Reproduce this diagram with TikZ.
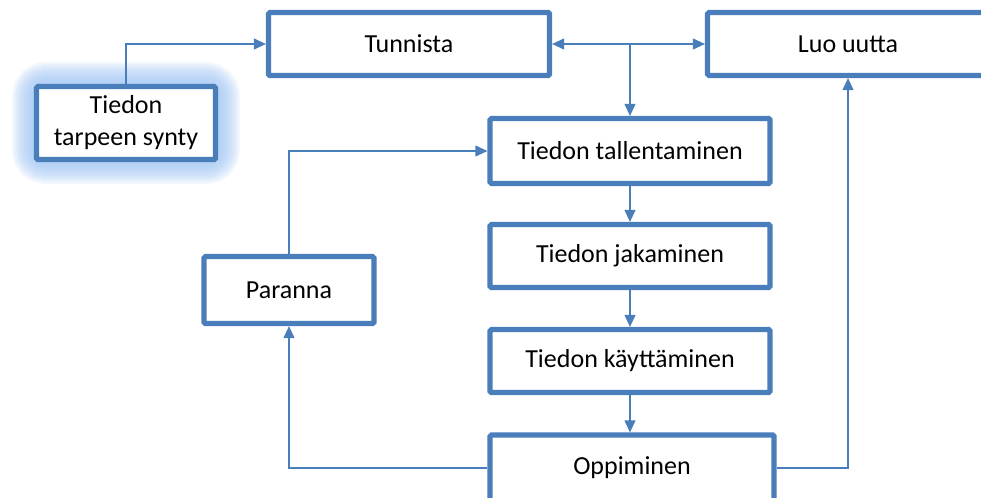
\documentclass[tikz,border=0pt]{standalone}
\usepackage{fontspec}
\setmainfont{Carlito}
\usetikzlibrary{arrows.meta}
\usetikzlibrary{backgrounds}

\definecolor{boxblue}{HTML}{4A7EBB}
\definecolor{glowblue}{HTML}{9CC2F2}

\tikzset{
  laatikko/.style={draw=boxblue,line width=3.8pt,fill=white,rounded corners=1pt,
    align=center,inner sep=0pt,font=\fontsize{19.5}{24}\selectfont},
  nuoli/.style={draw=boxblue,line width=1.4pt,-{Triangle[length=9pt,width=8pt]}}
}

\begin{document}
\begin{tikzpicture}[x=0.75pt,y=-0.75pt]
\useasboundingbox (0,0) rectangle (981,497);
\clip (0,0) rectangle (981,497);
\node[laatikko,minimum width=210.75pt,minimum height=47.25pt] (tunnista) at (409,44) {Tunnista};
\node[laatikko,minimum width=210.75pt,minimum height=47.25pt] (luo) at (848,44) {Luo uutta};
\node[laatikko,minimum width=134.25pt,minimum height=54.75pt] (tarve) at (126,123) {Tiedon\\tarpeen synty};
\node[laatikko,minimum width=210pt,minimum height=48.75pt] (tallennus) at (630,151) {Tiedon tallentaminen};
\node[laatikko,minimum width=210pt,minimum height=47.25pt] (jako) at (630,256) {Tiedon jakaminen};
\node[laatikko,minimum width=210pt,minimum height=47.25pt] (kaytto) at (630,361) {Tiedon käyttäminen};
\node[laatikko,minimum width=213pt,minimum height=49.5pt] (oppi) at (632,468) {Oppiminen};
\node[laatikko,minimum width=127.5pt,minimum height=50.25pt] (paranna) at (289,290) {Paranna};

% hehku
\begin{scope}[on background layer]
\foreach \w in {33,30,...,3}
  \draw[glowblue,opacity=0.12,line width=\w pt,rounded corners=9pt]
    (tarve.south west) rectangle (tarve.north east);
\end{scope}

\draw[nuoli] (tarve.north) |- (tunnista.west);
\draw[nuoli,{Triangle[length=9pt,width=8pt]}-{Triangle[length=9pt,width=8pt]}] (tunnista.east) -- (luo.west);
\draw[nuoli] (tallennus.north |- tunnista.east) -- (tallennus.north);
\draw[nuoli] (tallennus) -- (jako);
\draw[nuoli] (jako) -- (kaytto);
\draw[nuoli] (kaytto.south) -- (kaytto.south |- oppi.north);
\draw[nuoli] (oppi.west) -| (paranna.south);
\draw[nuoli] (paranna.north) |- (tallennus.west);
\draw[nuoli] (oppi.east) -| (luo.south);
\end{tikzpicture}
\end{document}
